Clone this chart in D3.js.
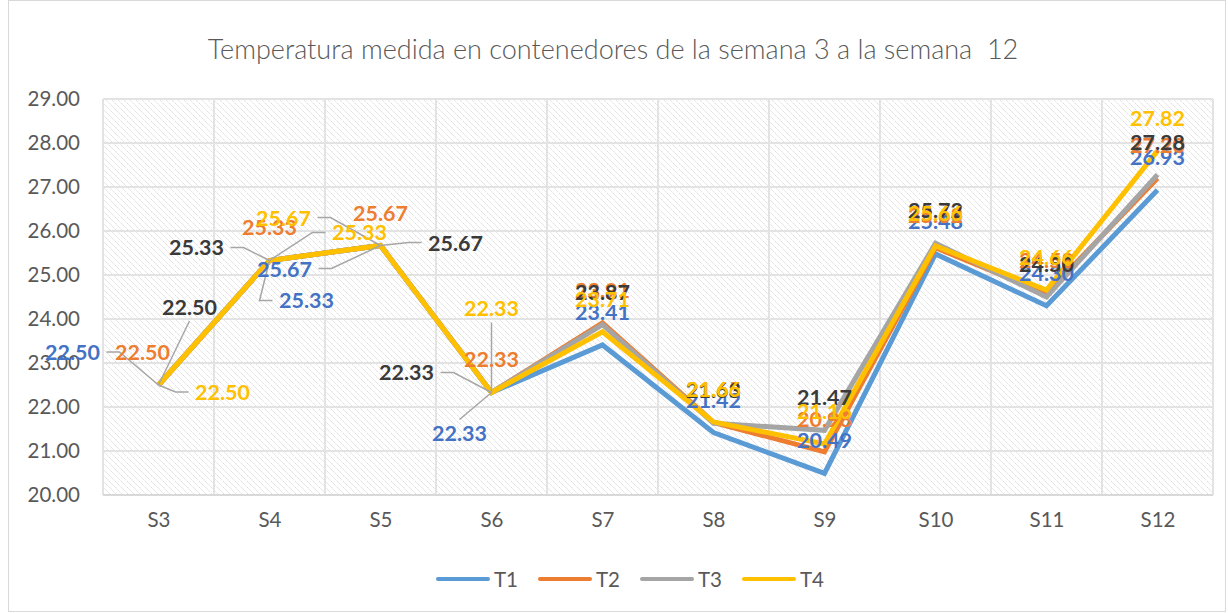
<!DOCTYPE html>
<html>
<head>
<meta charset="utf-8">
<script src="https://cdn.jsdelivr.net/npm/d3@7/dist/d3.min.js"></script>
<style>
  html, body { margin: 0; padding: 0; background: #fff; }
  svg { display: block; font-family: Lato, "Noto Sans", sans-serif; }
</style>
</head>
<body>
<svg id="chart" width="1228" height="613"></svg>
<script>
// ---- data ----
const titleText = "Temperatura medida en contenedores de la semana 3 a la semana  12";
const categories = ["S3", "S4", "S5", "S6", "S7", "S8", "S9", "S10", "S11", "S12"];
const seriesNames = ["T1", "T2", "T3", "T4"];
const t1 = [22.50, 25.33, 25.67, 22.33, 23.41, 21.42, 20.49, 25.48, 24.30, 26.93];
const t2 = [22.50, 25.33, 25.67, 22.33, 23.91, 21.65, 20.98, 25.62, 24.58, 27.20];
const t3 = [22.50, 25.33, 25.67, 22.33, 23.87, 21.63, 21.47, 25.72, 24.50, 27.28];
const t4 = [22.50, 25.33, 25.67, 22.33, 23.71, 21.66, 21.16, 25.66, 24.66, 27.82];
const yTicks = [20, 21, 22, 23, 24, 25, 26, 27, 28, 29];

// ---- styles ----
const lineColors = ["#5B9BD5", "#ED7D31", "#A5A5A5", "#FFC000"];
const labelColors = ["#4472C4", "#ED7D31", "#3a3a3a", "#FFC000"];
// manual label placement (relative to the point), for labels moved in the original
const labelMoves = {
  "0-0": [-86, -33, true], "1-0": [-16, -33, false], "2-0": [31, -78, true], "3-0": [64, 7, true],
  "0-1": [37, 40, true], "2-1": [-73, -13, true], "3-1": [90, -28, true],
  "0-2": [-96, 23, true], "2-2": [75, -3, true], "3-2": [-97, -28, true],
  "0-3": [-32, 41, true], "2-3": [-85, -20, true], "3-3": [0, -84, true]
};

const seriesVals = [t1, t2, t3, t4];
const svg = d3.select("#chart");
const plot = { left: 103, right: 1213, top: 99, bottom: 495 };

// chart border
svg.append("rect").attr("x", 8.5).attr("y", 0.5).attr("width", 1217).attr("height", 611)
  .attr("fill", "#fff").attr("stroke", "#d9d9d9").attr("stroke-width", 1);

// hatch pattern
const defs = svg.append("defs");
const pat = defs.append("pattern").attr("id", "hatch").attr("patternUnits", "userSpaceOnUse")
  .attr("width", 6).attr("height", 6);
pat.append("rect").attr("width", 6).attr("height", 6).attr("fill", "#fff");
pat.append("path").attr("d", "M-1,-1 L7,7 M-1,5 L1,7 M5,-1 L7,1")
  .attr("stroke", "#dadada").attr("stroke-width", 1).attr("stroke-dasharray", "2,1");

// scales
const x = d3.scalePoint().domain(categories).range([plot.left, plot.right]).padding(0.5);
const y = d3.scaleLinear().domain([20, 29]).range([plot.bottom, plot.top]);
const step = x.step();

svg.append("rect").attr("x", plot.left).attr("y", plot.top)
  .attr("width", plot.right - plot.left).attr("height", plot.bottom - plot.top)
  .attr("fill", "url(#hatch)");

// gridlines
const grid = svg.append("g");
grid.selectAll("line.h").data(yTicks).join("line")
  .attr("x1", plot.left).attr("x2", plot.right)
  .attr("y1", d => y(d)).attr("y2", d => y(d))
  .attr("stroke", "#e3e3e3").attr("stroke-width", 2);
grid.selectAll("line.v").data(d3.range(categories.length + 1)).join("line")
  .attr("x1", i => plot.left + i * step).attr("x2", i => plot.left + i * step)
  .attr("y1", plot.top).attr("y2", plot.bottom)
  .attr("stroke", "#e3e3e3").attr("stroke-width", 2);
svg.append("line").attr("x1", plot.left).attr("x2", plot.right)
  .attr("y1", y(20)).attr("y2", y(20)).attr("stroke", "#d9d9d9").attr("stroke-width", 2);

// axes
const yAxis = d3.axisLeft(y).tickValues(yTicks).tickFormat(d3.format(".2f")).tickSize(0).tickPadding(0);
const yg = svg.append("g").attr("transform", `translate(${plot.left - 23},0)`).call(yAxis);
yg.select(".domain").remove();
yg.selectAll("text").attr("font-size", 20.5).attr("fill", "#595959").attr("font-family", "Lato, sans-serif");

const xAxis = d3.axisBottom(x).tickSize(0).tickPadding(0);
const xg = svg.append("g").attr("transform", `translate(0,${plot.bottom + 17})`).call(xAxis);
xg.select(".domain").remove();
xg.selectAll("text").attr("font-size", 20.5).attr("fill", "#595959").attr("font-family", "Lato, sans-serif");

// lines
const line = d3.line().x((d, i) => x(categories[i])).y(d => y(d));
seriesVals.forEach((vals, s) => {
  svg.append("path").datum(vals).attr("d", line)
    .attr("fill", "none").attr("stroke", lineColors[s]).attr("stroke-width", 5)
    .attr("stroke-linejoin", "miter").attr("stroke-linecap", "butt");
});

// leader lines + labels
const leaderG = svg.append("g");
const labelG = svg.append("g");
const fmt = d3.format(".2f");
const lw = 62, lh = 22;
seriesVals.forEach((vals, s) => {
  vals.forEach((v, i) => {
    const px = x(categories[i]), py = y(v);
    const mv = labelMoves[s + "-" + i];
    const dx = mv ? mv[0] : 0, dy = mv ? mv[1] : -33;
    const cx = px + dx, cy = py + dy;
    if (mv && mv[2]) {
      let pts;
      if (Math.abs(dx) > lw / 2 + 4) {
        const sx = dx < 0 ? cx + lw / 2 + 3 : cx - lw / 2 - 3;
        const hx = dx < 0 ? sx + 13 : sx - 13;
        pts = [[sx, cy], [hx, cy], [px, py]];
      } else {
        const sy = dy < 0 ? cy + lh / 2 + 3 : cy - lh / 2 - 3;
        pts = [[cx, sy], [px, py]];
      }
      leaderG.append("path").attr("d", d3.line()(pts))
        .attr("fill", "none").attr("stroke", "#a6a6a6").attr("stroke-width", 1.5);
    }
    labelG.append("text").attr("x", cx).attr("y", cy)
      .attr("text-anchor", "middle").attr("dominant-baseline", "central")
      .attr("font-size", 21.5).attr("font-weight", "bold")
      .attr("fill", labelColors[s]).text(fmt(v));
  });
});

// title
const title = svg.append("text").attr("x", 613).attr("y", 48)
  .attr("text-anchor", "middle").attr("dominant-baseline", "central")
  .attr("font-size", 24).attr("fill", "#595959").attr("font-weight", 300)
  .style("white-space", "pre").attr("xml:space", "preserve").text(titleText);
const tl = title.node().getComputedTextLength();
title.attr("font-size", 24 * 811 / tl);

// legend
const legendX = [436, 538, 640, 742];
const lg = svg.append("g");
seriesNames.forEach((n, s) => {
  lg.append("line").attr("x1", legendX[s] + 2).attr("x2", legendX[s] + 52)
    .attr("y1", 579).attr("y2", 579)
    .attr("stroke", lineColors[s]).attr("stroke-width", 4).attr("stroke-linecap", "round");
  lg.append("text").attr("x", legendX[s] + 58).attr("y", 579)
    .attr("dominant-baseline", "central").attr("font-size", 20.5).attr("fill", "#595959").text(n);
});
</script>
</body>
</html>
